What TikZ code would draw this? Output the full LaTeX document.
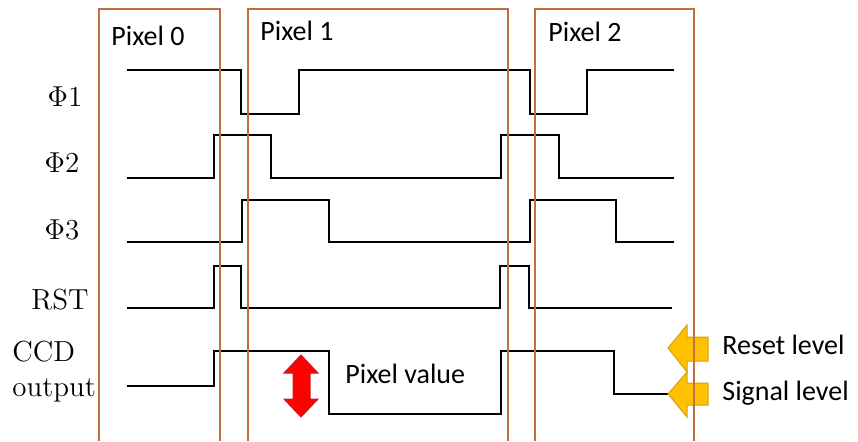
\documentclass[tikz,border=0pt]{standalone}
\usepackage{fontspec}
\newfontfamily\pixelfont{Carlito}
\usepackage{tikz}
\usetikzlibrary{positioning}
\definecolor{framebrown}{RGB}{192,112,62}
\definecolor{levelgold}{RGB}{255,192,0}
\definecolor{levelgoldedge}{RGB}{214,160,20}
\definecolor{valuered}{RGB}{255,0,0}
\definecolor{valueredge}{RGB}{192,30,40}
\tikzset{
  ccdpicture/.style={x=0.5pt, y=-0.5pt},
  ccdframe/.style={draw=framebrown, line width=0.75pt},
  ccdwave/.style={draw=black, line width=1.25pt},
  ccdsignal/.style={font=\fontsize{14.5}{17.5}\selectfont, inner sep=0pt},
  ccdpixel/.style={font=\pixelfont\fontsize{14}{16}\selectfont, inner sep=0pt, anchor=west},
  ccdlevel/.style={fill=levelgold, draw=levelgoldedge, line width=0.5pt},
  ccdvalue/.style={fill=valuered, draw=valueredge, line width=0.5pt}
}

\begin{document}
\begin{tikzpicture}[ccdpicture]
\useasboundingbox (0,0) rectangle (858,441);
% clock and reset waveforms
\draw[ccdwave] (127,70) -| (241,114) -| (299,70) -| (530,114) -| (587,70) -- (674,70);
\draw[ccdwave] (127,178) -| (214,135) -| (271,178) -| (501,135) -| (559,178) -- (674,178);
\draw[ccdwave] (127,242) -| (242,200) -| (329,242) -| (530,200) -| (616,242) -- (674,242);
\draw[ccdwave] (127,308) -| (214,266) -| (241,308) -| (500,266) -| (529,308) -- (672,308);
\draw[ccdwave] (127,386) -| (214,351) -| (329,414) -| (501,351) -| (614,394) -- (668,394);
% signal names
\node[ccdsignal] (phione) at (65,97) {$\Phi$1};
\node[ccdsignal] (phitwo) at (62,163) {$\Phi$2};
\node[ccdsignal] (phithree) at (62,230) {$\Phi$3};
\node[ccdsignal] (rst) at (60,300) {RST};
\node[ccdsignal, align=left, anchor=west] (ccdout) at (12,372) {CCD\\output};
% pixel value and levels
\path[ccdvalue] (301,355) -- (318,373) -- (310,373) -- (310,399) -- (318,399) -- (301,417)
  -- (284,399) -- (293,399) -- (293,373) -- (284,373) -- cycle;
\node[ccdpixel] (value) at (345,374) {Pixel value};
\path[ccdlevel] (668,348) -- (687,325) -- (687,337) -- (708,337) -- (708,361) -- (687,361) -- (687,372) -- cycle;
\path[ccdlevel] (668,394) -- (687,372) -- (687,383) -- (708,383) -- (708,405) -- (687,405) -- (687,417) -- cycle;
\node[ccdpixel] (reset) at (722,345) {Reset level};
\node[ccdpixel] (signal) at (722,393) {Signal level};
% pixel frames
\draw[ccdframe] (99,441) |- (220,9) -- (220,441);
\draw[ccdframe] (248,441) |- (508,9) -- (508,441);
\draw[ccdframe] (535,441) |- (694,9) -- (694,441);
\node[ccdpixel] (pixzero) at (111,36) {Pixel 0};
\node[ccdpixel] (pixone) at (260,31) {Pixel 1};
\node[ccdpixel] (pixtwo) at (548,32) {Pixel 2};
\end{tikzpicture}
\end{document}
